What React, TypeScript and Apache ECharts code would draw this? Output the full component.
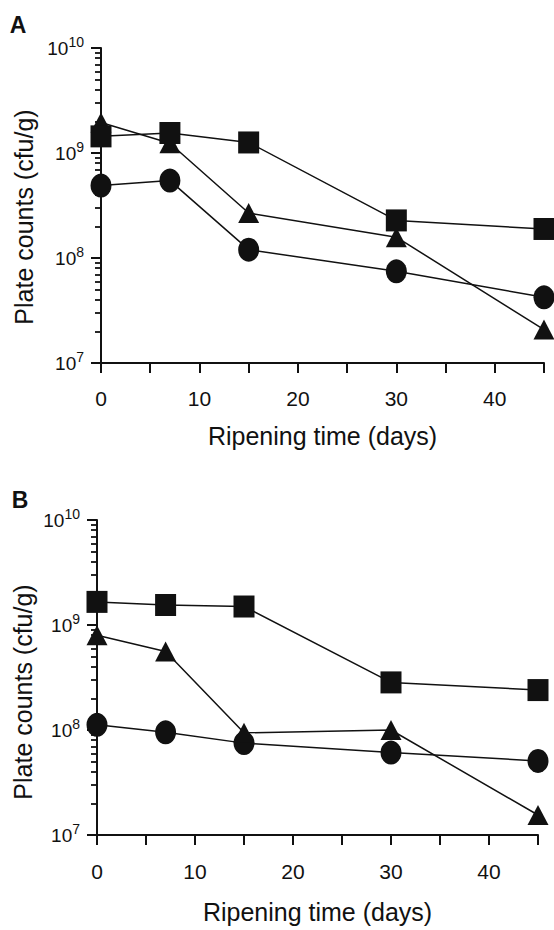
import React, { useEffect, useRef } from 'react';
import * as echarts from 'echarts';

const days = [0, 7, 15, 30, 45];
const aSquares = [1.44e9, 1.55e9, 1.26e9, 2.28e8, 1.89e8];
const aTriangles = [1.95e9, 1.24e9, 2.68e8, 1.58e8, 2.08e7];
const aCircles = [4.89e8, 5.46e8, 1.2e8, 7.46e7, 4.22e7];
const bSquares = [1.66e9, 1.55e9, 1.5e9, 2.84e8, 2.4e8];
const bTriangles = [8.0e8, 5.6e8, 9.4e7, 1.0e8, 1.55e7];
const bCircles = [1.12e8, 9.5e7, 7.5e7, 6.1e7, 5.07e7];
const xLabeledTicks = [0, 10, 20, 30, 40];
const panelLetters = ['A', 'B'];
const xTitle = 'Ripening time (days)';
const yTitle = 'Plate counts (cfu/g)';

const INK = '#111111';
const FONT = '"Liberation Sans", Arial, Helvetica, sans-serif';

const pair = (ys: number[]) => days.map((d, i) => [d, ys[i]]);

export default function App() {
  const ref = useRef<HTMLDivElement>(null);
  useEffect(() => {
    if (!ref.current) return;
    const chart = echarts.init(ref.current, null, { renderer: 'svg' });

    const grids = [
      { left: 101, top: 48, width: 443, height: 315 },
      { left: 97, top: 520, width: 441, height: 315 },
    ];
    const nameGaps = [60, 64];
    const labelMargins = [25, 26];

    const xAxis = grids.map((_, i) => ({
      type: 'value',
      gridIndex: i,
      min: 0,
      max: 45,
      interval: 5,
      axisLine: { show: true, onZero: false, lineStyle: { color: INK, width: 2 } },
      axisTick: { show: true, inside: false, length: 10, lineStyle: { color: INK, width: 2 } },
      axisLabel: {
        color: INK,
        fontSize: 21,
        fontFamily: FONT,
        margin: labelMargins[i],
        formatter: (v: number) => (xLabeledTicks.indexOf(v) >= 0 ? String(v) : ''),
      },
      splitLine: { show: false },
      name: xTitle,
      nameLocation: 'middle',
      nameGap: nameGaps[i],
      nameTextStyle: { color: INK, fontSize: 25, fontFamily: FONT },
    }));

    const yAxis = grids.map((_, i) => ({
      type: 'log',
      logBase: 10,
      gridIndex: i,
      min: 1e7,
      max: 1e10,
      axisLine: { show: true, lineStyle: { color: INK, width: 2 } },
      axisTick: { show: true, inside: false, length: 10, lineStyle: { color: INK, width: 2 } },
      minorTick: { show: true, splitNumber: 9, length: 6, lineStyle: { color: INK, width: 1.8 } },
      splitLine: { show: false },
      minorSplitLine: { show: false },
      axisLabel: {
        margin: 17,
        formatter: (v: number) => '{b|10}{s|' + Math.round(Math.log10(v)) + '}',
        rich: {
          b: { fontSize: 19, lineHeight: 27, color: INK, fontFamily: FONT },
          s: { fontSize: 14, lineHeight: 14, verticalAlign: 'top', color: INK, fontFamily: FONT },
        },
      },
    }));

    const mk = (i: number, data: number[], symbol: string, size: number[], z: number) => ({
      type: 'line',
      xAxisIndex: i,
      yAxisIndex: i,
      data: pair(data),
      symbol,
      symbolSize: size,
      showSymbol: true,
      z,
      lineStyle: { color: INK, width: 1.5 },
      itemStyle: { color: INK, borderWidth: 0 },
    });

    const series: any[] = [];
    [
      [aTriangles, aCircles, aSquares],
      [bTriangles, bCircles, bSquares],
    ].forEach(([tri, cir, sq], i) => {
      series.push(mk(i, cir, 'circle', [21, 24], 3));
      series.push(mk(i, tri, 'triangle', [21, 20], 4));
      series.push(mk(i, sq, 'rect', [21, 22], 5));
    });

    const letterPos = [
      [18, 25],
      [20, 500],
    ];
    const yTitlePos = [
      [24, 217],
      [23, 692],
    ];

    const graphic: any[] = [];
    panelLetters.forEach((t, i) => {
      graphic.push({
        type: 'text',
        x: letterPos[i][0],
        y: letterPos[i][1],
        style: {
          text: t,
          fontSize: 23,
          fontWeight: 'bold',
          fontFamily: FONT,
          fill: INK,
          align: 'center',
          verticalAlign: 'middle',
        },
      });
      graphic.push({
        type: 'text',
        x: yTitlePos[i][0],
        y: yTitlePos[i][1],
        rotation: Math.PI / 2,
        style: {
          text: yTitle,
          fontSize: 25,
          fontFamily: FONT,
          fill: INK,
          align: 'center',
          verticalAlign: 'middle',
        },
      });
    });

    chart.setOption({
      animation: false,
      backgroundColor: '#ffffff',
      grid: grids,
      xAxis,
      yAxis,
      series,
      graphic,
    });

    return () => chart.dispose();
  }, []);

  return (
    <div
      ref={ref}
      style={{ position: 'absolute', left: 0, top: 0, width: 554, height: 930 }}
    />
  );
}
